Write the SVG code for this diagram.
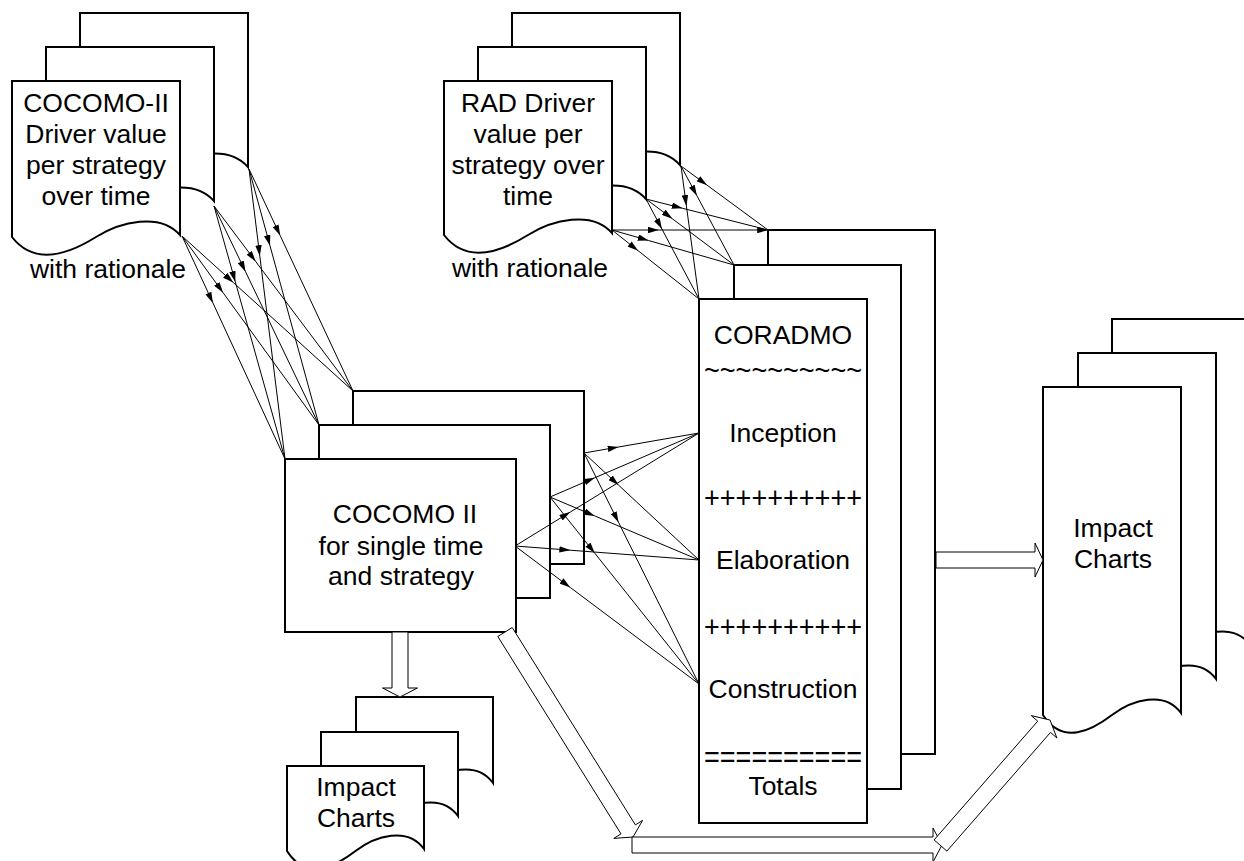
<svg xmlns="http://www.w3.org/2000/svg" width="1244" height="861" viewBox="0 0 1244 861">
  <style>
    .shape { fill: #fff; stroke: #000; stroke-width: 2; }
    .lbl { font-family: "Liberation Sans", Arial, sans-serif; font-size: 26.5px; fill: #000; text-anchor: middle; }
    .sym { font-size: 30px; }
    .conn path { fill: none; stroke: #000; stroke-width: 1; marker-mid: url(#ah); }
    .block { fill: #fff; stroke: #000; stroke-width: 1; }
  </style>
  <defs>
    <marker id="ah" viewBox="0 0 10 6" refX="10" refY="3" markerWidth="11" markerHeight="6.5" markerUnits="userSpaceOnUse" orient="auto">
      <path d="M0,0 L10,3 L0,6 Z" fill="#000"/>
    </marker>
  </defs>
  <rect width="1244" height="861" fill="#fff"/>

  <!-- COCOMO-II driver documents (stack of three) -->
  <g id="cocomo-drivers">
    <path class="shape" d="M80,13 H248 V167 C228,144 188,154 164,169 C140,184 104,200 80,169 Z"/>
    <path class="shape" d="M46,47 H214 V201 C194,178 154,188 130,203 C106,218 70,234 46,203 Z"/>
    <path class="shape" d="M12,81 H180 V235 C160,212 120,222 96,237 C72,252 36,268 12,237 Z"/>
    <text class="lbl" x="96" y="112">COCOMO-II</text>
    <text class="lbl" x="96" y="143">Driver value</text>
    <text class="lbl" x="96" y="174">per strategy</text>
    <text class="lbl" x="96" y="205">over time</text>
    <text class="lbl" x="108" y="278">with rationale</text>
  </g>

  <!-- RAD driver documents -->
  <g id="rad-drivers">
    <path class="shape" d="M512,13 H680 V165 C660,142 620,152 596,167 C572,182 536,198 512,167 Z"/>
    <path class="shape" d="M478,47 H646 V199 C626,176 586,186 562,201 C538,216 502,232 478,201 Z"/>
    <path class="shape" d="M444,81 H612 V233 C592,210 552,220 528,235 C504,250 468,266 444,235 Z"/>
    <text class="lbl" x="528" y="112">RAD Driver</text>
    <text class="lbl" x="528" y="143">value per</text>
    <text class="lbl" x="528" y="174">strategy over</text>
    <text class="lbl" x="528" y="205">time</text>
    <text class="lbl" x="530" y="277">with rationale</text>
  </g>

  <!-- COCOMO II model runs -->
  <g id="cocomo-model">
    <rect class="shape" x="353" y="391" width="231" height="173"/>
    <rect class="shape" x="319" y="425" width="231" height="173"/>
    <rect class="shape" x="285" y="459" width="231" height="173"/>
    <text class="lbl" x="405" y="523">COCOMO II</text>
    <text class="lbl" x="401" y="555">for single time</text>
    <text class="lbl" x="401" y="585">and strategy</text>
  </g>

  <!-- CORADMO phase model -->
  <g id="coradmo">
    <rect class="shape" x="768" y="230" width="167" height="524"/>
    <rect class="shape" x="734" y="265" width="167" height="524"/>
    <rect class="shape" x="699" y="299" width="168" height="524"/>
    <text class="lbl" x="783" y="344">CORADMO</text>
    <text class="lbl sym" x="783" y="380" textLength="158" lengthAdjust="spacingAndGlyphs">~~~~~~~~~~</text>
    <text class="lbl" x="783" y="442">Inception</text>
    <text class="lbl sym" x="783" y="508" textLength="158" lengthAdjust="spacingAndGlyphs">++++++++++</text>
    <text class="lbl" x="783" y="569">Elaboration</text>
    <text class="lbl sym" x="783" y="637" textLength="158" lengthAdjust="spacingAndGlyphs">++++++++++</text>
    <text class="lbl" x="783" y="698">Construction</text>
    <text class="lbl sym" x="783" y="767" textLength="158" lengthAdjust="spacingAndGlyphs">==========</text>
    <text class="lbl" x="783" y="795">Totals</text>
  </g>

  <!-- Impact charts from CORADMO -->
  <g id="impact-coradmo">
    <path class="shape" d="M1112,319 H1250 V645 C1233.6,622 1200.7,632 1181,647 C1161.3,662 1131.7,678 1112,647 Z"/>
    <path class="shape" d="M1078,353 H1216 V679 C1199.6,656 1166.7,666 1147,681 C1127.3,696 1097.7,712 1078,681 Z"/>
    <path class="shape" d="M1043,387 H1181 V713 C1164.6,690 1131.7,700 1112,715 C1092.3,730 1062.7,746 1043,715 Z"/>
    <text class="lbl" x="1113" y="537">Impact</text>
    <text class="lbl" x="1113" y="568">Charts</text>
  </g>

  <!-- Impact charts from COCOMO II -->
  <g id="impact-cocomo">
    <path class="shape" d="M356,697 H493 V783 C476.7,760 444.1,770 424.5,785 C404.9,800 375.6,816 356,785 Z"/>
    <path class="shape" d="M321,732 H458 V816 C441.7,793 409.1,803 389.5,818 C369.9,833 340.6,849 321,818 Z"/>
    <path class="shape" d="M287,766 H424 V849 C407.7,826 375.1,836 355.5,851 C335.9,866 306.6,882 287,851 Z"/>
    <text class="lbl" x="356" y="796">Impact</text>
    <text class="lbl" x="356" y="827">Charts</text>
  </g>

  <!-- Connectors -->
  <g id="connectors" class="conn">
    <!-- driver documents to COCOMO II -->
    <path d="M249,169 L280.2,235.6 L353,391"/>
    <path d="M249,169 L270,245.8 L319,425"/>
    <path d="M249,169 L259.8,256 L285,459"/>
    <path d="M214,206 L255.7,261.5 L353,391"/>
    <path d="M214,206 L245.5,271.7 L319,425"/>
    <path d="M214,206 L235.3,281.9 L285,459"/>
    <path d="M182,236 L233.3,282.5 L353,391"/>
    <path d="M182,236 L223.1,292.7 L319,425"/>
    <path d="M182,236 L212.9,302.9 L285,459"/>
    <!-- RAD documents to CORADMO -->
    <path d="M681,166 L707.1,185.2 L768,230"/>
    <path d="M681,166 L696.9,195.7 L734,265"/>
    <path d="M681,166 L686.4,205.9 L699,299"/>
    <path d="M646,199 L682.6,208.3 L768,230"/>
    <path d="M646,199 L672.4,218.8 L734,265"/>
    <path d="M646,199 L661.9,229 L699,299"/>
    <path d="M612,230 L658.8,230 L768,230" marker-end="url(#ah)"/>
    <path d="M612,230 L648.6,240.5 L734,265"/>
    <path d="M612,230 L638.1,250.7 L699,299"/>
    <!-- COCOMO II runs to CORADMO phases -->
    <path d="M584,453 L618.5,447 L699,433"/>
    <path d="M584,453 L618.5,485.1 L699,560"/>
    <path d="M584,453 L618.5,522.3 L699,684"/>
    <path d="M550,497 L594.7,477.8 L699,433"/>
    <path d="M550,497 L594.7,515.9 L699,560"/>
    <path d="M550,497 L594.7,553.1 L699,684"/>
    <path d="M515,546 L570.2,512.1 L699,433"/>
    <path d="M515,546 L570.2,550.2 L699,560"/>
    <path d="M515,546 L570.2,587.4 L699,684"/>
  </g>

  <!-- Block arrows -->
  <g id="flows">
    <polygon class="block" points="392,632 408,632 408,688 417.5,688 400,697 382.5,688 392,688"/>
    <polygon class="block" points="497.8,636.5 512.2,627.5 635.4,824.9 642.6,820.4 633,837 613.8,838.4 621,833.9"/>
    <polygon class="block" points="632,837 933,837 933,828 942,845 933,862 933,853 632,853"/>
    <polygon class="block" points="934.1,839.9 1037.7,721.2 1031.3,715.6 1050,720 1056.9,738 1050.5,732.4 946.9,851.1"/>
    <polygon class="block" points="936,552 1035,552 1035,543 1043,560 1035,577 1035,568 936,568"/>
  </g>
</svg>
